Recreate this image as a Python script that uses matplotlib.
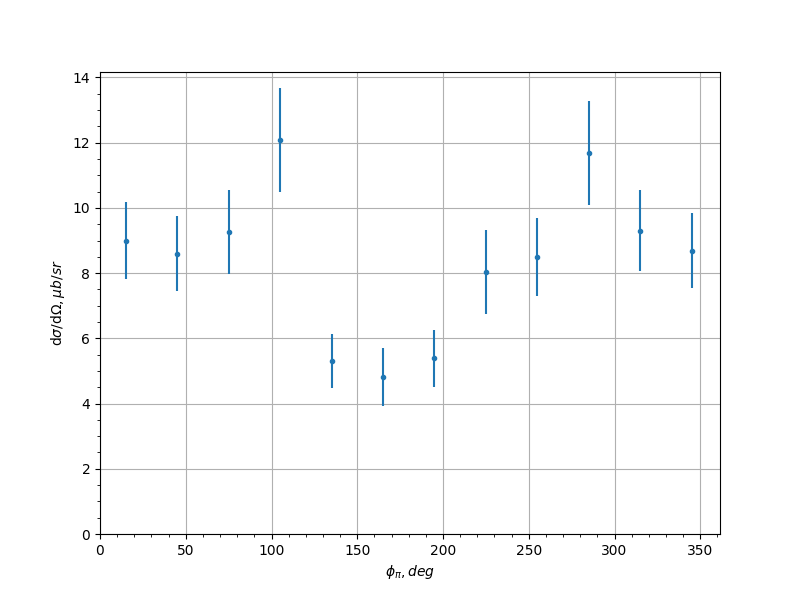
import matplotlib
matplotlib.use("Agg")
import matplotlib.pyplot as plt
import numpy as np

phi = [15, 45, 75, 105, 135, 165, 195, 225, 255, 285, 315, 345]
xsec = [9.0, 8.59, 9.26, 12.09, 5.30, 4.81, 5.39, 8.03, 8.49, 11.69, 9.30, 8.69]
err = [1.17, 1.15, 1.29, 1.59, 0.83, 0.88, 0.88, 1.28, 1.2, 1.59, 1.24, 1.15]

fig, ax = plt.subplots(figsize=(8, 6), dpi=100)
ax.errorbar(phi, xsec, yerr=err, fmt='.')
ax.set_xlim(left=0)
ax.set_ylim(bottom=0)
ax.minorticks_on()
ax.grid(True, which='major')
ax.set_xlabel(r'$\phi_\pi, deg$')
ax.set_ylabel(r'd$\sigma$/d$\Omega, \mu b/sr$')
fig.savefig("out.png")
